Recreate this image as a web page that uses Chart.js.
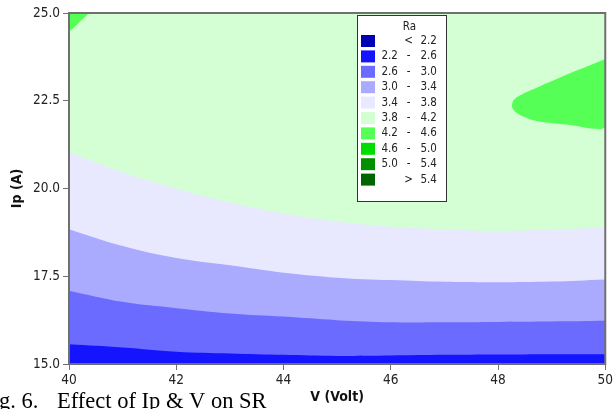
<!DOCTYPE html>
<html>
<head>
<meta charset="utf-8">
<script src="https://cdn.jsdelivr.net/npm/chart.js@4.4.0/dist/chart.umd.min.js"></script>
<style>
  body { margin: 0; background: #fff; }
</style>
</head>
<body>
<canvas id="contour" width="615" height="409"></canvas>
<script>
// contour lines of Ra (Ip in A at each V)
const volts = [40, 41, 42, 43, 44, 45, 46, 47, 48, 49, 50];
const ra26 = [15.56, 15.47, 15.35, 15.30, 15.26, 15.23, 15.24, 15.26, 15.27, 15.28, 15.28];
const ra30 = [17.09, 16.77, 16.59, 16.44, 16.35, 16.25, 16.19, 16.19, 16.20, 16.21, 16.23];
const ra34 = [18.84, 18.36, 18.02, 17.81, 17.60, 17.46, 17.39, 17.34, 17.33, 17.35, 17.41];
const ra38 = [21.03, 20.46, 19.99, 19.60, 19.29, 19.06, 18.91, 18.84, 18.79, 18.83, 18.89];

// the two 4.2 islands, traced round
const islandRightV = [50, 49.34, 48.72, 48.44, 48.29, 48.26, 48.32, 48.47, 48.72, 49.34, 50, 50];
const islandRightIp = [23.69, 23.28, 22.87, 22.68, 22.52, 22.33, 22.19, 22.05, 21.92, 21.81, 21.76, 23.69];
const islandTopV = [40, 40.36, 40.2, 40, 40];
const islandTopIp = [25, 25, 24.75, 24.49, 25];

// legend
const legendLeft = ['', '2.2', '2.6', '3.0', '3.4', '3.8', '4.2', '4.6', '5.0', ''];
const legendSep = ['<', '-', '-', '-', '-', '-', '-', '-', '-', '>'];
const legendRight = ['2.2', '2.6', '3.0', '3.4', '3.8', '4.2', '4.6', '5.0', '5.4', '5.4'];
const legendColors = ['#0000b4', '#1414ff', '#6b6bff', '#aaaaff', '#e8e8ff',
    '#d4ffd4', '#55ff55', '#00dd00', '#009000', '#006400'];

const yTicks = [15, 17.5, 20, 22.5, 25];

const sansFont = "'DejaVu Sans Condensed', 'DejaVu Sans', sans-serif";
const axisGray = '#707070';

const toPoints = (xs, ys) => xs.map((x, i) => ({ x, y: ys[i] }));

const band = (ys, color) => ({
    data: toPoints(volts, ys),
    showLine: true,
    fill: 'start',
    backgroundColor: color,
    borderColor: 'rgba(0,0,0,0)',
    borderWidth: 0,
    tension: 0.4,
});

const island = (xs, ys) => ({
    data: toPoints(xs, ys),
    showLine: true,
    fill: 'shape',
    backgroundColor: legendColors[6],
    borderColor: 'rgba(0,0,0,0)',
    borderWidth: 0,
    tension: 0.25,
});

const contourExtras = {
    id: 'contourExtras',
    beforeDatasetsDraw(chart) {
        const { ctx, chartArea: a } = chart;
        ctx.save();
        ctx.fillStyle = legendColors[5];
        ctx.fillRect(a.left, a.top, a.right - a.left, a.bottom - a.top);
        ctx.restore();
    },
    afterDraw(chart) {
        const { ctx, chartArea: a } = chart;
        ctx.save();

        // frame round the plot
        ctx.strokeStyle = axisGray;
        ctx.lineWidth = 2;
        ctx.strokeRect(a.left, a.top, a.right - a.left, a.bottom - a.top);

        // legend box
        ctx.fillStyle = '#fff';
        ctx.fillRect(357.5, 15.5, 89, 186);
        ctx.strokeStyle = '#333';
        ctx.lineWidth = 1;
        ctx.strokeRect(357.5, 15.5, 89, 186);

        ctx.fillStyle = '#222';
        ctx.font = '11.5px ' + sansFont;
        ctx.textBaseline = 'middle';
        ctx.textAlign = 'center';
        ctx.fillText('Ra', 409.5, 27.5);

        legendColors.forEach((c, i) => {
            const top = 35 + i * 15.4;
            ctx.fillStyle = c;
            ctx.fillRect(361, top, 14, 12);
            ctx.fillStyle = '#222';
            ctx.textAlign = 'left';
            ctx.fillText(legendLeft[i], 381.5, top + 6);
            ctx.fillText(legendRight[i], 420.5, top + 6);
            ctx.textAlign = 'center';
            ctx.fillText(legendSep[i], 408.5, top + 6);
        });

        // figure caption, cut at the left edge as in the scan
        ctx.fillStyle = '#000';
        ctx.font = "22.5px 'Liberation Serif', serif";
        ctx.textAlign = 'left';
        ctx.textBaseline = 'alphabetic';
        ctx.fillText('g. 6.', -1, 407.5);
        ctx.fillText('Effect of Ip & V on SR', 57, 407.5);

        ctx.restore();
    },
};

new Chart(document.getElementById('contour'), {
    type: 'scatter',
    data: {
        datasets: [
            band(ra26, legendColors[1]),
            band(ra30, legendColors[2]),
            band(ra34, legendColors[3]),
            band(ra38, legendColors[4]),
            island(islandRightV, islandRightIp),
            island(islandTopV, islandTopIp),
        ],
    },
    options: {
        responsive: false,
        animation: false,
        layout: { padding: { top: 13, right: 8, left: 0, bottom: 0 } },
        elements: { point: { radius: 0 } },
        plugins: {
            legend: { display: false },
            tooltip: { enabled: false },
        },
        scales: {
            x: {
                type: 'linear',
                min: 40,
                max: 50,
                afterFit: (s) => { s.height = 45; },
                ticks: {
                    stepSize: 2,
                    padding: 2,
                    color: '#222',
                    font: { family: sansFont, size: 13.5 },
                },
                grid: { drawOnChartArea: false, tickLength: 6, color: axisGray },
                border: { color: axisGray, width: 2 },
                title: {
                    display: true,
                    text: 'V (Volt)',
                    color: '#111',
                    font: { family: sansFont, size: 14, weight: 'bold' },
                    padding: { top: 0, bottom: 3 },
                },
            },
            y: {
                type: 'linear',
                min: 15,
                max: 25,
                afterFit: (s) => { s.width = 69; },
                afterBuildTicks: (s) => { s.ticks = yTicks.map((v) => ({ value: v })); },
                ticks: {
                    padding: 3,
                    color: '#222',
                    font: { family: sansFont, size: 13.5 },
                    callback: (v) => v.toFixed(1),
                },
                grid: { drawOnChartArea: false, tickLength: 6, color: axisGray },
                border: { color: axisGray, width: 2 },
                title: {
                    display: true,
                    text: 'Ip (A)',
                    color: '#111',
                    font: { family: sansFont, size: 14, weight: 'bold' },
                    padding: { top: 9, bottom: 0 },
                },
            },
        },
    },
    plugins: [contourExtras],
});
</script>
</body>
</html>
